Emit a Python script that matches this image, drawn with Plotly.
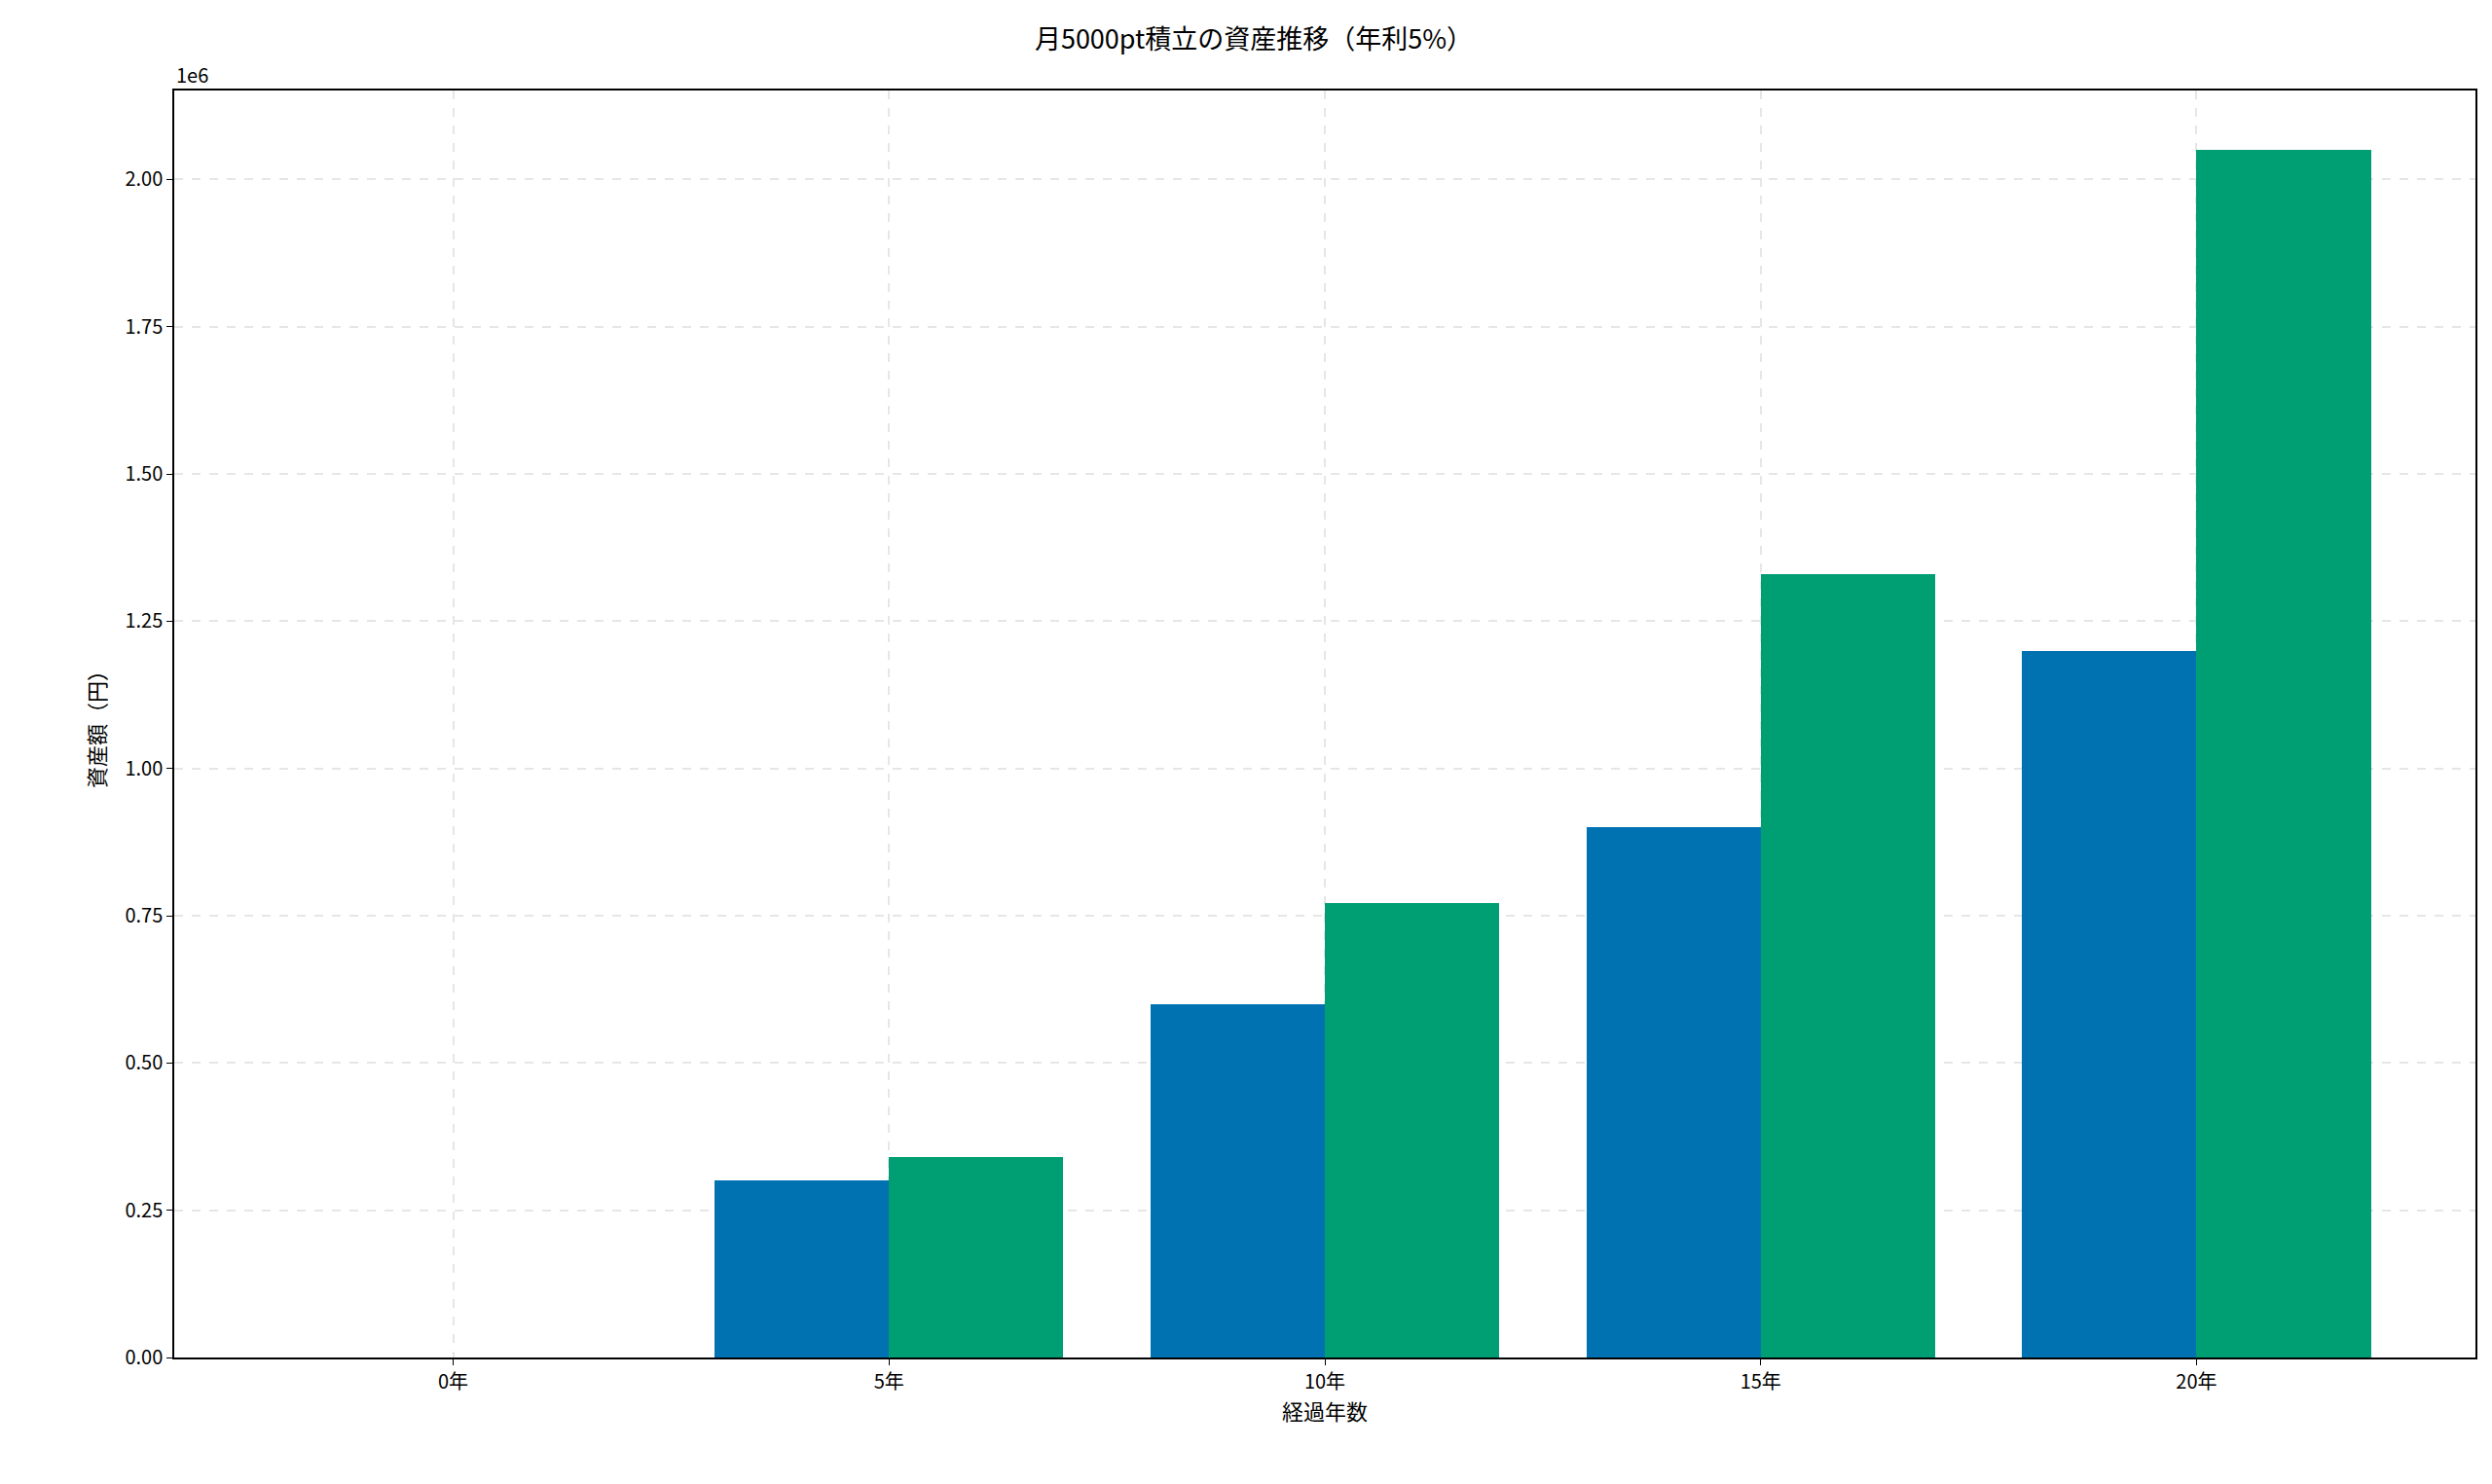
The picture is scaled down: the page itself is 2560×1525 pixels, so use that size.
import plotly.graph_objects as go

# data
years = [0, 5, 10, 15, 20]
year_labels = ["0年", "5年", "10年", "15年", "20年"]
principal = [0, 300000, 600000, 900000, 1200000]
with_interest = [0, 340000, 772000, 1330000, 2050000]
y_ticks = [0, 250000, 500000, 750000, 1000000, 1250000, 1500000, 1750000, 2000000]
y_tick_labels = ["0.00", "0.25", "0.50", "0.75", "1.00", "1.25", "1.50", "1.75", "2.00"]

font = "Noto Sans CJK JP"

fig = go.Figure()
fig.add_trace(go.Bar(x=years, y=principal, width=2, offset=-2,
                     marker=dict(color="#0072B2", line=dict(width=0)), name="元本"))
fig.add_trace(go.Bar(x=years, y=with_interest, width=2, offset=0,
                     marker=dict(color="#009E73", line=dict(width=0)), name="運用"))

axis_common = dict(showline=True, linecolor="black", linewidth=1.5, mirror=True,
                   ticks="outside", ticklen=6, tickcolor="black",
                   showgrid=True, gridcolor="#e6e6e6", griddash="dash", gridwidth=1.5,
                   tickfont=dict(family=font, size=20, color="black"), zeroline=False)

fig.update_layout(
    width=2560, height=1525,
    paper_bgcolor="white", plot_bgcolor="white",
    margin=dict(l=171, r=25, t=85, b=138),
    showlegend=False,
    bargap=0,
    title=dict(text="月5000pt積立の資産推移（年利5%）", x=0.5, xanchor="center",
               y=0.985, yanchor="top", font=dict(family=font, size=27, color="black")),
    xaxis=dict(axis_common, range=[-3.2, 23.2], tickvals=years, ticktext=year_labels,
               title=dict(text="経過年数", font=dict(family=font, size=22, color="black"),
                          standoff=12)),
    yaxis=dict(axis_common, range=[0, 2.151e6], tickvals=y_ticks, ticktext=y_tick_labels,
               title=dict(text="資産額（円）", font=dict(family=font, size=22, color="black"),
                          standoff=14)),
    annotations=[dict(text="1e6", xref="paper", yref="paper", x=0, y=1.0,
                      xanchor="left", yanchor="bottom", showarrow=False,
                      font=dict(family=font, size=20, color="black"))],
)

fig.write_html("out.html")
